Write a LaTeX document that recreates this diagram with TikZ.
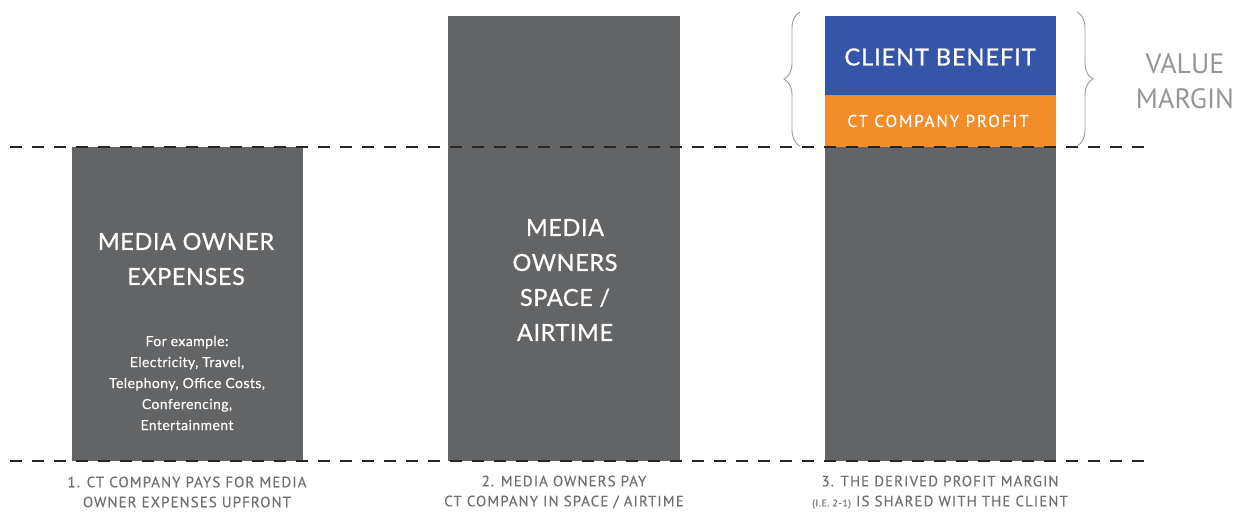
\documentclass[tikz,border=0pt]{standalone}
\usepackage{fontspec}
\setmainfont{Lato}
\newfontfamily\bigfont{Lato}[LetterSpace=2.5,FakeBold=0.8]
\newfontfamily\smallfont{Lato}[LetterSpace=3,FakeBold=0.4]
\newfontfamily\ptsans{PT Sans}
\newfontfamily\ptsanscap{PT Sans}[LetterSpace=7,FakeBold=0.3]
\newfontfamily\ptsansprof{PT Sans}[LetterSpace=11,FakeBold=0.6]
\usetikzlibrary{decorations.pathreplacing}
\definecolor{bargrey}{HTML}{636466}
\definecolor{cblue}{HTML}{3555A8}
\definecolor{corange}{HTML}{F28D2A}
\definecolor{capgrey}{HTML}{707070}
\definecolor{valgrey}{HTML}{969696}
\definecolor{bracegrey}{HTML}{9A9A9A}
\tikzset{
  barbox/.style={fill=bargrey, draw=none, anchor=north west, inner sep=0pt},
  dline/.style={line width=1.4pt, dash pattern=on 12pt off 10pt, black!85},
  bigtxt/.style={text=white, align=center, font=\bigfont\fontsize{23.5}{35}\selectfont, inner sep=0pt},
  smalltxt/.style={text=white, align=center, font=\smallfont\fontsize{14}{21}\selectfont, inner sep=0pt},
  captxt/.style={text=capgrey, align=center, font=\ptsanscap\fontsize{15}{20}\selectfont, inner sep=0pt},
  bracestyle/.style={draw=bracegrey, line width=0.9pt, decorate, decoration={brace, amplitude=16pt}},
}
\begin{document}
\begin{tikzpicture}[x=1pt, y=-1pt]
\useasboundingbox (0,0) rectangle (1241,512);
% bars
\node[barbox, minimum width=231pt, minimum height=314pt] (bar1) at (72,147) {};
\node[barbox, minimum width=232pt, minimum height=445pt] (bar2) at (448,16) {};
\node[barbox, minimum width=231pt, minimum height=314pt] (bar3) at (825,147) {};
\node[barbox, fill=cblue, minimum width=231pt, minimum height=79pt] (blue) at (825,16) {};
\node[barbox, fill=corange, minimum width=231pt, minimum height=52pt] (orange) at (825,95) {};
% dashed lines
\coordinate (l1a) at (10,147);
\coordinate (l1b) at (1150,147);
\coordinate (l2a) at (10,461);
\coordinate (l2b) at (1150,461);
\draw[dline] (l1a) -- (l1b);
\draw[dline] (l2a) -- (l2b);
% bar texts
\node[bigtxt] (t1) at (186,259) {MEDIA OWNER\\EXPENSES};
\node[smalltxt] (t1b) at (187,383) {For example:\\Electricity, Travel,\\Telephony, Office Costs,\\Conferencing,\\Entertainment};
\node[bigtxt] (t2) at (565,280) {MEDIA\\OWNERS\\SPACE /\\AIRTIME};
\node[text=white, font=\bigfont\fontsize{23.5}{35}\selectfont\addfontfeatures{LetterSpace=4}, inner sep=0pt] (t3) at (940,57) {CLIENT BENEFIT};
\node[text=white, font=\ptsansprof\fontsize{17}{18}\selectfont, inner sep=0pt] (t4) at (938,121) {CT COMPANY PROFIT};
% braces
\coordinate (bl1) at (800,146);
\coordinate (bl2) at (800,12);
\coordinate (br1) at (1077,12);
\coordinate (br2) at (1077,146);
\draw[bracestyle] (bl1) -- (bl2);
\draw[bracestyle] (br1) -- (br2);
\node[text=valgrey, align=center, font=\ptsans\fontsize{28}{35}\selectfont, inner sep=0pt] (vm) at (1185,81) {VALUE\\MARGIN};
% captions
\node[captxt] (c1) at (187,492) {1. CT COMPANY PAYS FOR MEDIA\\OWNER EXPENSES UPFRONT};
\node[captxt] (c2) at (564,492) {2. MEDIA OWNERS PAY\\CT COMPANY IN SPACE / AIRTIME};
\node[captxt] (c3) at (940,492) {3. THE DERIVED PROFIT MARGIN\\{\fontsize{9.5}{10}\selectfont(I.E. 2-1)} IS SHARED WITH THE CLIENT};
\end{tikzpicture}
\end{document}
